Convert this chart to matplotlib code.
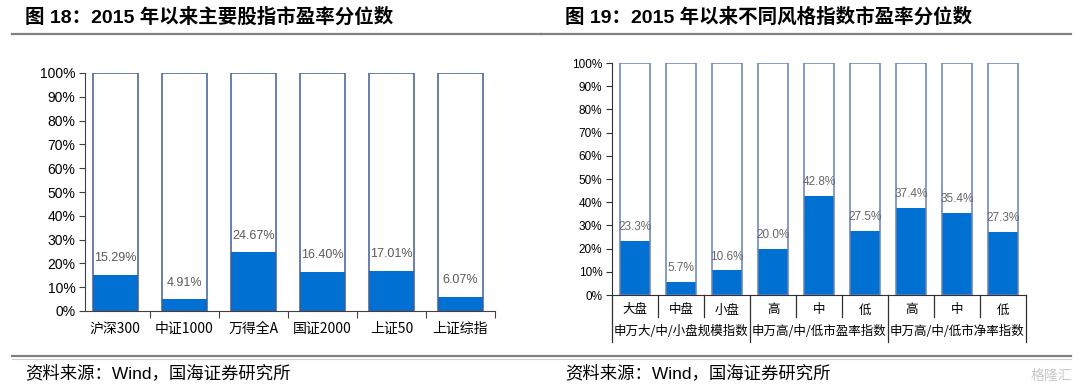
import matplotlib
matplotlib.use('Agg')
import matplotlib.pyplot as plt
from matplotlib.lines import Line2D
from matplotlib.ticker import FuncFormatter
import matplotlib.transforms as mtransforms

plt.rcParams['font.family'] = ['Liberation Sans', 'Noto Sans CJK SC', 'DejaVu Sans']

# data
left_cats = ['沪深300', '中证1000', '万得全A', '国证2000', '上证50', '上证综指']
left_vals = [15.29, 4.91, 24.67, 16.40, 17.01, 6.07]

right_cats = ['大盘', '中盘', '小盘', '高', '中', '低', '高', '中', '低']
right_groups = ['申万大/中/小盘规模指数', '申万高/中/低市盈率指数', '申万高/中/低市净率指数']
right_vals = [23.3, 5.7, 10.6, 20.0, 42.8, 27.5, 37.4, 35.4, 27.3]

BLUE = '#0070D2'
W, H = 1080, 392

fig = plt.figure(figsize=(W / 100, H / 100), dpi=100)
fig.patch.set_facecolor('white')


def px_axes(x0, y0, x1, y1):
    # pixel box (top-left origin) -> axes
    return fig.add_axes([x0 / W, 1 - y1 / H, (x1 - x0) / W, (y1 - y0) / H])


pct = FuncFormatter(lambda v, p: '%d%%' % v)

# headers, rules and source lines
fig.text(25 / W, 1 - 17 / H, '图 18：2015 年以来主要股指市盈率分位数', fontsize=14,
         fontweight='bold', va='center', ha='left')
fig.text(565 / W, 1 - 17 / H, '图 19：2015 年以来不同风格指数市盈率分位数', fontsize=14,
         fontweight='bold', va='center', ha='left')
for xa, xb in [(12, 541), (541, 1071)]:
    fig.add_artist(Line2D([xa / W, xb / W], [1 - 34 / H] * 2, color='#808080', lw=1.6))
fig.add_artist(Line2D([12 / W, 1071 / W], [1 - 356 / H] * 2, color='#808080', lw=1.6))
fig.add_artist(Line2D([12 / W, 1071 / W], [1 - 358.5 / H] * 2, color='#d0d0d0', lw=0.8))
fig.text(25 / W, 1 - 373 / H, '资料来源：Wind，国海证券研究所', fontsize=12.5, va='center')
fig.text(565 / W, 1 - 373 / H, '资料来源：Wind，国海证券研究所', fontsize=12.5, va='center')
fig.text(1072 / W, 1 - 376 / H, '格隆汇', fontsize=10, color='#c8c8c8', va='center', ha='right')

# ---- left chart
ax = px_axes(85, 73, 495, 311)
x = range(len(left_cats))
ax.bar(x, left_vals, width=0.65, color=BLUE, zorder=2)
ax.bar(x, [100] * len(left_cats), width=0.65, fill=False, edgecolor='#3F5C99', lw=1.1, zorder=3)
for i, v in enumerate(left_vals):
    ax.annotate('%.2f%%' % v, (i, v), xytext=(0, 12), textcoords='offset points',
                ha='center', va='center', fontsize=9, color='#595959')
ax.set_xlim(-0.44, len(left_cats) - 0.5)
ax.set_ylim(0, 100)
ax.set_yticks(range(0, 101, 10))
ax.yaxis.set_major_formatter(pct)
ax.set_xticks([i + 0.5 for i in range(len(left_cats))])
ax.set_xticklabels([])
ax.set_xticks(list(x), minor=True)
ax.set_xticklabels(left_cats, minor=True, fontsize=10, family=['Noto Sans CJK SC', 'DejaVu Sans'])
ax.tick_params(axis='x', which='minor', length=0, pad=8)
ax.tick_params(axis='x', which='major', length=5, direction='out', color='#404040')
ax.tick_params(axis='y', length=4, labelsize=10, color='#404040', pad=3)
for s in ['top', 'right']:
    ax.spines[s].set_visible(False)
ax.spines['left'].set_color('#404040')
ax.spines['bottom'].set_color('#404040')

# ---- right chart
ax2 = px_axes(612, 63, 1026, 295)
x2 = range(len(right_cats))
ax2.bar(x2, right_vals, width=0.65, color=BLUE, zorder=2)
ax2.bar(x2, [100] * len(right_cats), width=0.65, fill=False, edgecolor='#6680B8', lw=1.1, zorder=3)
for i, v in enumerate(right_vals):
    ax2.annotate('%.1f%%' % v, (i, v), xytext=(0, 10), textcoords='offset points',
                 ha='center', va='center', fontsize=8.5, color='#666666')
ax2.set_xlim(-0.5, len(right_cats) - 0.5)
ax2.set_ylim(0, 100)
ax2.set_yticks(range(0, 101, 10))
ax2.yaxis.set_major_formatter(pct)
ax2.set_xticks([])
ax2.tick_params(axis='y', length=4, labelsize=8.5, color='#303030', pad=3)
for s in ['top', 'right']:
    ax2.spines[s].set_visible(False)
ax2.spines['left'].set_color('#303030')
ax2.spines['bottom'].set_color('#303030')

trans = mtransforms.blended_transform_factory(ax2.transData, ax2.transAxes)
cjk = ['Noto Sans CJK SC', 'DejaVu Sans']
for i, c in enumerate(right_cats):
    ax2.text(i, -15 / 232, c, transform=trans, ha='center', va='center', fontsize=9, family=cjk)
for g, name in enumerate(right_groups):
    ax2.text(g * 3 + 1, -36 / 232, name, transform=trans, ha='center', va='center',
             fontsize=9, family=cjk)
for k in range(len(right_cats) + 1):
    low = -47 / 232 if k % 3 == 0 else -22 / 232
    ax2.add_line(Line2D([k - 0.5, k - 0.5], [0, low], transform=trans, color='#303030',
                        lw=0.9, clip_on=False))

fig.savefig('out.png', dpi=100, facecolor='white')
